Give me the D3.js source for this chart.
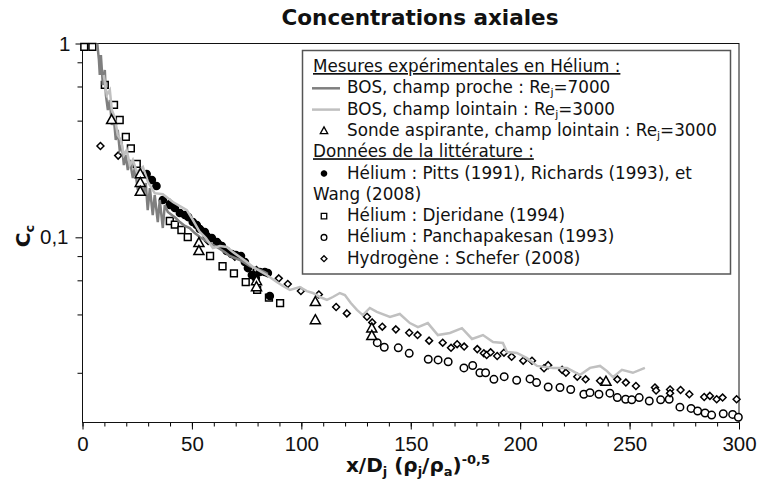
<!DOCTYPE html>
<html>
<head>
<meta charset="utf-8">
<script src="https://d3js.org/d3.v7.min.js"></script>
<style>
  body { margin: 0; background: #fff; }
  svg { font-family: "DejaVu Sans", sans-serif; }
</style>
</head>
<body>
<svg id="chart" width="759" height="480"></svg>
<script>
  // BOS, champ proche : Rej=7000  [x/Dj (rhoj/rhoa)^-0.5, Cc]
  const bosProche = [[6.5,1.068],[7.5,0.822],[7.9,0.688],[8.4,0.872],[9.3,0.611],[10.2,0.730],[10.7,0.542],[11.6,0.454],[12.5,0.511],[13.4,0.380],[14.3,0.413],[15.2,0.318],[16.1,0.358],[17.0,0.282],[18.0,0.299],[18.9,0.236],[19.8,0.266],[20.7,0.2225],[21.6,0.251],[23.0,0.202],[23.9,0.228],[25.3,0.1754],[26.2,0.202],[27.6,0.1653],[28.9,0.1906],[29.8,0.138],[30.8,0.1796],[32.1,0.1303],[33.0,0.1653],[34.4,0.1199],[35.3,0.1558],[36.7,0.1117],[37.6,0.1468],[39.0,0.1351],[40.8,0.1303],[42.6,0.1257],[44.5,0.1199],[46.8,0.1144],[49.0,0.1117],[51.3,0.1052],[53.6,0.1003],[55.9,0.0968],[58.2,0.0935],[60.5,0.0902],[62.8,0.0870],[65.0,0.0839],[67.3,0.0801],[69.6,0.0782],[71.9,0.0764],[74.2,0.0737],[76.5,0.0711],[78.8,0.0694],[81.0,0.0678],[83.3,0.0662],[84.7,0.0647]];

  // BOS, champ lointain : Rej=3000
  const bosLointain = [[9.7,0.688],[11.1,0.542],[12.5,0.575],[13.4,0.454],[14.8,0.413],[16.1,0.337],[17.5,0.318],[18.9,0.266],[20.2,0.282],[21.6,0.236],[23.0,0.251],[24.8,0.217],[27.6,0.231],[29.9,0.193],[33.0,0.169],[36.7,0.167],[41.3,0.152],[44.5,0.145],[47.7,0.138],[50.4,0.123],[53.6,0.1065],[56.4,0.0992],[59.6,0.0881],[62.8,0.0902],[66.0,0.0891],[68.7,0.0839],[71.9,0.0791],[75.1,0.0746],[77.9,0.0703],[81.0,0.0670],[84.2,0.0639],[88.8,0.0588],[91.6,0.0561],[94.8,0.0535],[99.3,0.0554],[102.5,0.0528],[105.3,0.0516],[108.5,0.0492],[111.7,0.0475],[114.4,0.0492],[117.6,0.0516],[119.9,0.0504],[122.6,0.0458],[125.4,0.0422],[128.1,0.0397],[131.3,0.0432],[134.5,0.0412],[140.5,0.0388],[145.0,0.0402],[149.6,0.0361],[153.3,0.0344],[157.8,0.0361],[162.4,0.0313],[167.9,0.0321],[173.4,0.0340],[178.0,0.0299],[183.0,0.0313],[187.6,0.0288],[192.1,0.0285],[194.0,0.0256],[198.5,0.0253],[203.1,0.0238],[207.7,0.0217],[215.0,0.0212],[221.4,0.0212],[227.3,0.0195],[231.9,0.0212],[236.5,0.0217],[239.7,0.0204],[242.4,0.0190],[246.5,0.0207],[251.5,0.0200],[257.0,0.0212]];

  // Sonde aspirante, champ lointain
  const sonde = [[13.3,0.403],[26.4,0.212],[26.4,0.191],[26.4,0.172],[53.2,0.0935],[53.2,0.085],[79.5,0.0595],[79.5,0.0554],[106.4,0.0464],[106.4,0.0374],[132.2,0.0339],[132.2,0.0310],[239.2,0.0180]];

  // Hélium : Pitts (1991), Richards (1993), Wang (2008)
  const pitts = [[29.3,0.2122],[31.7,0.1975],[33.8,0.1840],[36.7,0.1558],[39.9,0.1468],[42.2,0.1416],[44.5,0.1335],[46.8,0.1303],[48.3,0.1272],[50.4,0.1199],[52.2,0.1158],[53.6,0.1104],[55.9,0.1065],[56.8,0.1015],[59.1,0.0992],[61.4,0.0946],[63.7,0.0902],[65.9,0.0850],[68.2,0.0820],[70.1,0.0811],[72.4,0.0801],[74.2,0.0746],[75.6,0.0694],[77.4,0.0639],[79.2,0.0617],[81.0,0.0662],[83.3,0.0662],[84.7,0.0654],[85.6,0.0498]];

  // Hélium : Djeridane (1994)
  const djeridane = [[0.8,0.96],[4.5,0.96],[10.2,0.611],[14.4,0.482],[17.0,0.403],[19.8,0.330],[22.1,0.288],[24.8,0.239],[39.9,0.1214],[42.2,0.1164],[45.2,0.1091],[48.1,0.1003],[58.3,0.0801],[64.0,0.0709],[69.2,0.0652],[74.6,0.0587],[79.8,0.0536],[85.2,0.0489],[90.3,0.0458]];

  // Hélium : Panchapakesan (1993)
  const panchapakesan = [[134.7,0.0286],[137.9,0.0271],[144.3,0.0269],[149.3,0.0252],[158.0,0.0235],[162.5,0.0233],[167.1,0.0228],[174.3,0.0212],[178.3,0.0218],[181.6,0.0200],[184.2,0.0200],[188.0,0.0185],[192.7,0.0191],[198.4,0.0183],[204.5,0.0186],[207.5,0.0178],[212.8,0.0169],[218.2,0.0168],[223.1,0.0164],[229.1,0.0155],[231.9,0.0158],[236.0,0.0155],[241.0,0.0157],[244.4,0.0149],[248.2,0.0146],[251.0,0.0145],[254.4,0.0149],[259.0,0.0143],[264.2,0.0145],[268.1,0.0146],[273.0,0.0133],[278.1,0.0131],[281.1,0.0127],[284.5,0.0124],[287.5,0.0121],[292.8,0.0123],[297.1,0.0122],[299.7,0.0118]];

  // Hydrogène : Schefer (2008)
  const schefer = [[8.2,0.296],[16.3,0.264],[39.9,0.151],[52.1,0.1158],[53.6,0.1113],[57.4,0.0957],[62.0,0.0940],[69.6,0.0794],[79.5,0.0678],[89.7,0.0614],[93.8,0.0574],[99.8,0.0528],[108.0,0.0507],[115.9,0.0437],[120.8,0.0405],[130.0,0.0389],[132.4,0.0364],[137.0,0.0346],[143.2,0.0335],[149.3,0.0322],[153.1,0.0313],[158.4,0.0293],[164.6,0.0286],[168.4,0.0269],[171.2,0.0281],[174.4,0.0273],[180.4,0.0265],[183.4,0.0252],[184.7,0.0247],[186.5,0.0255],[189.5,0.0244],[192.6,0.0254],[196.1,0.0242],[201.4,0.0231],[205.4,0.0231],[210.9,0.0211],[212.8,0.0219],[219.2,0.0207],[220.9,0.0200],[226.1,0.0191],[229.9,0.0185],[236.5,0.0182],[244.4,0.0185],[248.3,0.0178],[252.9,0.0171],[261.6,0.0168],[262.1,0.0162],[268.5,0.0164],[268.5,0.0157],[273.3,0.0163],[277.3,0.0155],[284.1,0.0150],[286.7,0.0152],[289.8,0.0146],[292.5,0.0149],[298.9,0.0146]];

  const xTicks = [0, 50, 100, 150, 200, 250, 300];
  const xMinor = d3.range(0, 301, 10);
  const yTicks = [1, 0.1];
  const yTickLabels = ["1", "0,1"];
  const yMinor = [0.8, 0.6, 0.4, 0.2, 0.08, 0.06, 0.04, 0.02];

  const margin = { top: 43.5, right: 20, bottom: 57.5, left: 82.5 };
  const width = 759 - margin.left - margin.right;
  const height = 480 - margin.top - margin.bottom;

  const svg = d3.select("#chart");
  const g = svg.append("g").attr("transform", `translate(${margin.left},${margin.top})`);

  const x = d3.scaleLinear().domain([0, 300]).range([0, width]);
  const y = d3.scaleLog().domain([0.01108, 1]).range([height, 0]);

  svg.append("defs").append("clipPath").attr("id", "plotclip")
    .append("rect").attr("width", width).attr("height", height);

  // axes
  const xAxis = g.append("g").attr("transform", `translate(0,${height})`)
    .call(d3.axisBottom(x).tickValues(xTicks).tickSize(7).tickPadding(7))
  xAxis.select(".domain").remove()
  xAxis.selectAll("text").style("font-size", "20.5px").attr("fill", "#111")

  g.append("g").attr("transform", `translate(0,${height})`)
    .call(d3.axisBottom(x).tickValues(xMinor).tickSize(4).tickFormat(""))
    .call(a => a.select(".domain").remove())

  const yAxis = g.append("g")
    .call(d3.axisLeft(y).tickValues(yTicks).tickSize(7).tickPadding(5).tickFormat((d, i) => yTickLabels[i]))
  yAxis.select(".domain").remove()
  yAxis.selectAll("text").style("font-size", "20.5px").attr("fill", "#111")
  yAxis.selectAll(".tick").filter(d => d === 0.1).select("text").attr("x", -14)

  g.append("g")
    .call(d3.axisLeft(y).tickValues(yMinor).tickSize(5).tickFormat(""))
    .call(a => a.select(".domain").remove())

  g.append("rect")
    .attr("width", width).attr("height", height)
    .attr("fill", "none").attr("stroke", "#111").attr("stroke-width", 1)

  // symbols
  const diamond = {
    draw(ctx, size) {
      const r = Math.sqrt(size / 2);
      ctx.moveTo(0, -r); ctx.lineTo(r, 0); ctx.lineTo(0, r); ctx.lineTo(-r, 0); ctx.closePath();
    }
  };
  const triangle = {
    draw(ctx, size) {
      const w = Math.sqrt(size) * 1.45;
      const h = w * 0.9;
      ctx.moveTo(0, -h * 0.6); ctx.lineTo(w / 2, h * 0.4); ctx.lineTo(-w / 2, h * 0.4); ctx.closePath();
    }
  };

  function drawPoints(data, type, size, fill) {
    g.append("g").selectAll("path")
      .data(data)
      .enter()
      .append("path")
      .attr("transform", d => `translate(${x(d[0])},${y(d[1])})`)
      .attr("d", d3.symbol().type(type).size(size))
      .attr("fill", fill)
      .attr("stroke", "#000")
      .attr("stroke-width", 1.5)
  }

  const line = d3.line().x(d => x(d[0])).y(d => y(d[1]));

  drawPoints(djeridane, d3.symbolSquare, 46, "#fff")
  drawPoints(panchapakesan, d3.symbolCircle, 44, "#fff")
  drawPoints(schefer, diamond, 24, "#fff")
  drawPoints(pitts, d3.symbolCircle, 40, "#000")

  g.append("path").datum(bosProche)
    .attr("clip-path", "url(#plotclip)")
    .attr("d", line).attr("fill", "none")
    .attr("stroke", "#7f7f7f").attr("stroke-width", 2.5).attr("stroke-linejoin", "miter")

  g.append("path").datum(bosLointain)
    .attr("clip-path", "url(#plotclip)")
    .attr("d", line).attr("fill", "none")
    .attr("stroke", "#c0c0c0").attr("stroke-width", 2.5)

  drawPoints(sonde, triangle, 48, "#fff")

  // legend
  const lx = 302.5, ly = 50.5;
  svg.append("rect")
    .attr("x", lx).attr("y", ly).attr("width", 428).attr("height", 223.5)
    .attr("fill", "#fff").attr("stroke", "#555").attr("stroke-width", 1.5)

  const rowY = i => 72 + i * 21.3;
  const leg = svg.append("g").style("font-size", "16.8px").attr("fill", "#111");

  function legText(i, tx, parts, underline) {
    const t = leg.append("text").attr("x", tx).attr("y", rowY(i));
    if (underline) t.style("text-decoration", "underline");
    let shift = 0;
    parts.forEach(p => {
      if (typeof p === "string") {
        t.append("tspan").attr("dy", -shift).text(p);
        shift = 0;
      } else {
        t.append("tspan").attr("dy", 3).style("font-size", "11px").text(p.sub);
        shift = 3;
      }
    });
    return t;
  }

  legText(0, 313, ["Mesures expérimentales en Hélium :"], true)
  leg.append("line").attr("x1", 312).attr("x2", 340).attr("y1", rowY(1) - 5).attr("y2", rowY(1) - 5)
    .attr("stroke", "#7f7f7f").attr("stroke-width", 2.5)
  legText(1, 347, ["BOS, champ proche : Re", { sub: "j" }, "=7000"])
  leg.append("line").attr("x1", 312).attr("x2", 340).attr("y1", rowY(2) - 5).attr("y2", rowY(2) - 5)
    .attr("stroke", "#c0c0c0").attr("stroke-width", 2.5)
  legText(2, 347, ["BOS, champ lointain : Re", { sub: "j" }, "=3000"])
  legText(3, 347, ["Sonde aspirante, champ lointain : Re", { sub: "j" }, "=3000"])
  legText(4, 313, ["Données de la littérature :"], true)
  legText(5, 347, ["Hélium : Pitts (1991), Richards (1993), et"])
  legText(6, 313, ["Wang (2008)"])
  legText(7, 347, ["Hélium : Djeridane (1994)"])
  legText(8, 347, ["Hélium : Panchapakesan (1993)"])
  legText(9, 347, ["Hydrogène : Schefer (2008)"])

  const legSym = [[3, triangle, 26, "#fff"], [5, d3.symbolCircle, 22, "#000"], [7, d3.symbolSquare, 30, "#fff"],
    [8, d3.symbolCircle, 26, "#fff"], [9, diamond, 18, "#fff"]];
  legSym.forEach(s => {
    leg.append("path")
      .attr("transform", `translate(324,${rowY(s[0]) - 5})`)
      .attr("d", d3.symbol().type(s[1]).size(s[2]))
      .attr("fill", s[3]).attr("stroke", "#000").attr("stroke-width", 1.3)
  });

  // titles
  svg.append("text").attr("x", 420).attr("y", 25).attr("text-anchor", "middle")
    .style("font-size", "21.5px").style("font-weight", "bold").attr("fill", "#111")
    .text("Concentrations axiales")

  const xl = svg.append("text").attr("x", 418).attr("y", 472).attr("text-anchor", "middle")
    .style("font-size", "20px").style("font-weight", "bold").attr("fill", "#111");
  xl.append("tspan").text("x/D");
  xl.append("tspan").attr("dy", 4).style("font-size", "13px").text("j");
  xl.append("tspan").attr("dy", -4).text(" (ρ");
  xl.append("tspan").attr("dy", 4).style("font-size", "13px").text("j");
  xl.append("tspan").attr("dy", -4).text("/ρ");
  xl.append("tspan").attr("dy", 4).style("font-size", "13px").text("a");
  xl.append("tspan").attr("dy", -4).text(")");
  xl.append("tspan").attr("dy", -8).style("font-size", "13px").text("-0,5");

  const yl = svg.append("text").attr("transform", "translate(30,236) rotate(-90)")
    .attr("text-anchor", "middle")
    .style("font-size", "20px").style("font-weight", "bold").attr("fill", "#111");
  yl.append("tspan").text("C");
  yl.append("tspan").attr("dy", 4).style("font-size", "13px").text("c");
</script>
</body>
</html>
